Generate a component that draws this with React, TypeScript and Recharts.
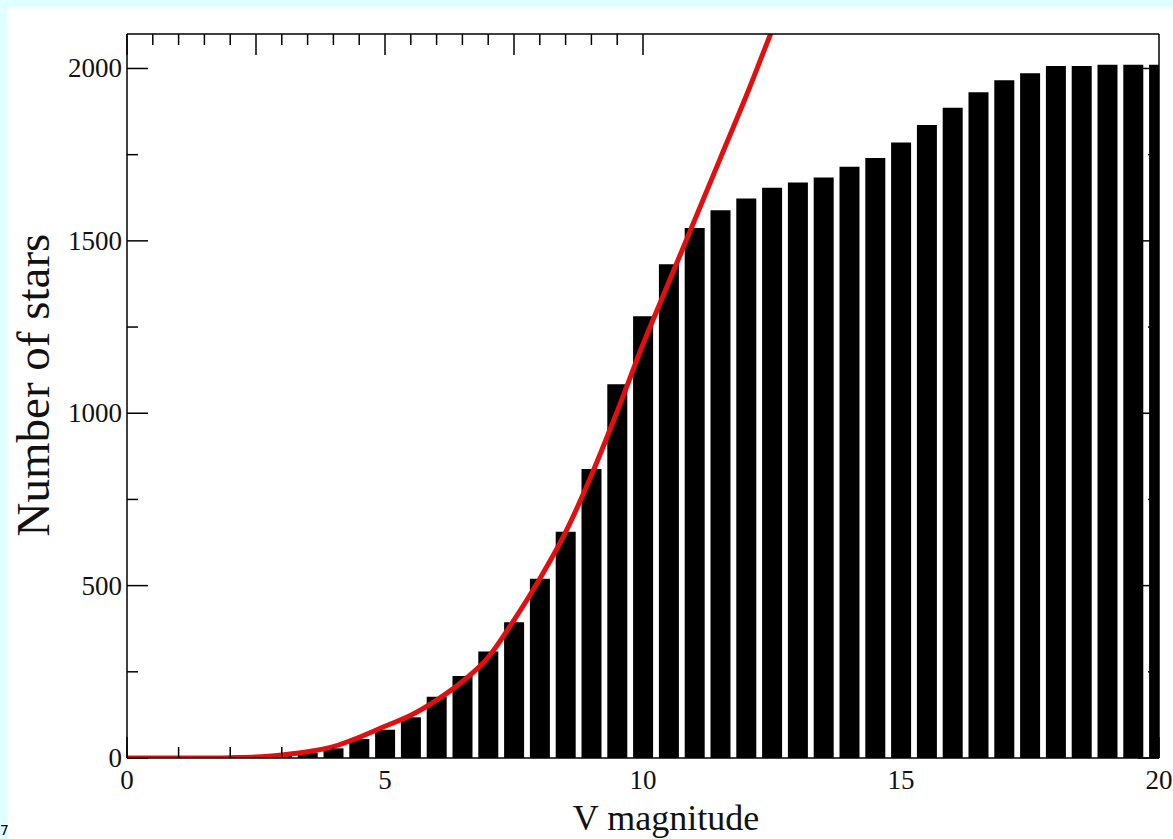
import { Bar, ComposedChart, Label, Line, XAxis, YAxis } from "recharts";

// V magnitude bins (0.5 mag wide)
const magnitudes = [
  0, 0.5, 1, 1.5, 2, 2.5, 3, 3.5, 4, 4.5, 5, 5.5, 6, 6.5, 7, 7.5, 8, 8.5, 9, 9.5,
  10, 10.5, 11, 11.5, 12, 12.5, 13, 13.5, 14, 14.5, 15, 15.5, 16, 16.5, 17, 17.5,
  18, 18.5, 19, 19.5, 20,
];

// cumulative number of stars brighter than V
const starCounts = [
  0, 0, 0, 0, 1, 3, 8, 16, 28, 55, 82, 118, 178, 238, 309, 394, 520, 656, 838, 1084,
  1281, 1432, 1537, 1589, 1623, 1654, 1669, 1684, 1715, 1740, 1785, 1836, 1886, 1931, 1966, 1986,
  2007, 2007, 2011, 2011, 2011,
];

// red model curve (runs off the top after ~12.5)
const fitCurve: (number | null)[] = [
  0, 0, 0, 0, 1, 3, 9, 18, 33, 60, 92, 124, 168, 222, 292, 400, 520, 655, 820, 1005,
  1200, 1380, 1560, 1740, 1920, 2110, 2290, null, null, null, null, null, null, null, null, null,
  null, null, null, null, null,
];

const xTicks = [0, 1, 2, 3, 4, 5, 6, 7, 8, 9, 10, 11, 12, 13, 14, 15, 16, 17, 18, 19, 20];
const xLabels = [0, 5, 10, 15, 20];
const yTicks = [0, 250, 500, 750, 1000, 1250, 1500, 1750, 2000];
const yLabels = [0, 500, 1000, 1500, 2000];

const rows = magnitudes.map((m, i) => ({ mag: m, count: starCounts[i], fit: fitCurve[i] }));

const FONT = "'Liberation Serif', 'DejaVu Serif', serif";
const MAJOR = 21;
const MINOR = 11;

const BottomTick = ({ x, y, payload }: any) => {
  const major = xLabels.includes(payload.value);
  return (
    <g>
      <line x1={x} x2={x} y1={y} y2={y - (major ? MAJOR : MINOR)} stroke="#000" strokeWidth={1.5} />
      {major && (
        <text x={x} y={y + 31} textAnchor="middle" fontFamily={FONT} fontSize={27} fill="#111">
          {payload.value}
        </text>
      )}
    </g>
  );
};

const TopTick = ({ x, y, payload }: any) => {
  const major = xLabels.includes(payload.value);
  return <line x1={x} x2={x} y1={y} y2={y + (major ? MAJOR : MINOR)} stroke="#000" strokeWidth={1.5} />;
};

const LeftTick = ({ x, y, payload }: any) => {
  const major = yLabels.includes(payload.value);
  return (
    <g>
      <line x1={x} x2={x + (major ? MAJOR : MINOR)} y1={y} y2={y} stroke="#000" strokeWidth={1.5} />
      {major && (
        <text x={x - 5} y={y + 9} textAnchor="end" fontFamily={FONT} fontSize={27} fill="#111">
          {payload.value}
        </text>
      )}
    </g>
  );
};

const RightTick = ({ x, y, payload }: any) => {
  const major = yLabels.includes(payload.value);
  return <line x1={x} x2={x - (major ? MAJOR : MINOR)} y1={y} y2={y} stroke="#000" strokeWidth={1.5} />;
};

const frame = { stroke: "#000", strokeWidth: 1.5 };

export default function App() {
  return (
    <div
      style={{
        position: "absolute",
        left: 0,
        top: 0,
        width: 1173,
        height: 839,
        overflow: "hidden",
        background: "#e0ffff",
      }}
    >
      <div style={{ position: "absolute", left: 7, top: 7, right: 0, bottom: 0, background: "#fff" }} />
      <span
        style={{
          position: "absolute",
          left: 0,
          top: 822,
          fontFamily: "'DejaVu Sans', sans-serif",
          fontSize: 14,
          lineHeight: "16px",
          color: "#000",
        }}
      >
        7
      </span>
      <div style={{ position: "absolute", left: 0, top: 0 }}>
        <ComposedChart
          width={1173}
          height={839}
          data={rows}
          margin={{ top: 4, right: 0, bottom: 51, left: 67 }}
        >
          <XAxis
            xAxisId="bottom"
            dataKey="mag"
            type="number"
            domain={[0, 20]}
            allowDataOverflow
            ticks={xTicks}
            interval={0}
            height={30}
            tickSize={0}
            tickMargin={0}
            tickLine={false}
            axisLine={frame}
            tick={BottomTick}
          >
            <Label
              content={({ viewBox }: any) => (
                <text
                  x={viewBox.x + viewBox.width / 2 + 23}
                  y={viewBox.y + 72}
                  textAnchor="middle"
                  fontFamily={FONT}
                  fontSize={36}
                  fill="#111"
                >
                  V magnitude
                </text>
              )}
            />
          </XAxis>
          <XAxis
            xAxisId="top"
            orientation="top"
            type="number"
            domain={[0, 20]}
            allowDataOverflow
            ticks={xTicks}
            interval={0}
            height={30}
            tickSize={0}
            tickMargin={0}
            tickLine={false}
            axisLine={frame}
            tick={TopTick}
          />
          <YAxis
            yAxisId="left"
            type="number"
            domain={[0, 2100]}
            allowDataOverflow
            ticks={yTicks}
            interval={0}
            width={60}
            tickSize={0}
            tickMargin={0}
            tickLine={false}
            axisLine={frame}
            tick={LeftTick}
          >
            <Label
              content={({ viewBox }: any) => {
                const cx = 49;
                const cy = viewBox.y + viewBox.height / 2 - 11;
                return (
                  <text
                    x={cx}
                    y={cy}
                    transform={`rotate(-90, ${cx}, ${cy})`}
                    textAnchor="middle"
                    fontFamily={FONT}
                    fontSize={47}
                    fill="#111"
                  >
                    Number of stars
                  </text>
                );
              }}
            />
          </YAxis>
          <YAxis
            yAxisId="right"
            orientation="right"
            type="number"
            domain={[0, 2100]}
            allowDataOverflow
            ticks={yTicks}
            interval={0}
            width={14}
            tickSize={0}
            tickMargin={0}
            tickLine={false}
            axisLine={frame}
            tick={RightTick}
          />
          <Bar
            xAxisId="bottom"
            yAxisId="left"
            dataKey="count"
            fill="#000"
            barSize={20}
            isAnimationActive={false}
          />
          <Line
            xAxisId="bottom"
            yAxisId="left"
            dataKey="fit"
            type="monotone"
            stroke="#e01010"
            strokeWidth={5}
            dot={false}
            isAnimationActive={false}
          />
        </ComposedChart>
      </div>
    </div>
  );
}
